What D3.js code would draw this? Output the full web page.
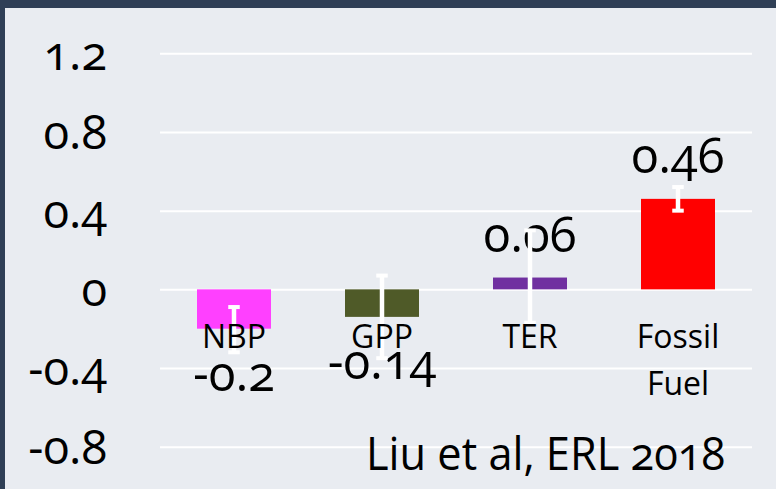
<!DOCTYPE html>
<html>
<head>
<meta charset="utf-8">
<script src="https://cdn.jsdelivr.net/npm/d3@7/dist/d3.min.js"></script>
<style>
  html, body { margin: 0; padding: 0; background: #e9ecf1; }
  svg { display: block; }
  text { font-family: "Open Sans", "Noto Sans", sans-serif; font-feature-settings: "onum" 1; fill: #000; }
</style>
</head>
<body>
<svg id="chart" width="776" height="489"></svg>
<script>
const categories = ["NBP", "GPP", "TER", "Fossil Fuel"];
const categoryLines = [["NBP"], ["GPP"], ["TER"], ["Fossil", "Fuel"]];
const values = [-0.2, -0.14, 0.06, 0.46];
const errLow = [-0.32, -0.35, -0.17, 0.40];
const errHigh = [-0.09, 0.07, 0.30, 0.52];
const valueLabels = ["-0.2", "-0.14", "0.06", "0.46"];
const barColors = ["#ff40ff", "#4f5a28", "#7030a0", "#ff0000"];
const yTicks = [-0.8, -0.4, 0, 0.4, 0.8, 1.2];
const yTickLabels = ["-0.8", "-0.4", "0", "0.4", "0.8", "1.2"];
const citation = "Liu et al, ERL 2018";

const svg = d3.select("#chart");
const W = 776, H = 489;

svg.append("rect").attr("width", W).attr("height", H).attr("fill", "#e9ecf1");
svg.append("rect").attr("x", 0).attr("y", 0).attr("width", W).attr("height", 8).attr("fill", "#2f3f56");
svg.append("rect").attr("x", 0).attr("y", 0).attr("width", 5).attr("height", H).attr("fill", "#2f3f56");

const x = d3.scaleBand().domain(categories).range([160, 752]).paddingInner(0.5).paddingOuter(0.25);
const y = d3.scaleLinear().domain([-0.8, 1.2]).range([446.7, 53.3]);

// gridlines
const yAxis = d3.axisLeft(y).tickValues(yTicks).tickSize(-(752 - 160)).tickFormat("");
const gAxis = svg.append("g").attr("transform", "translate(160,0)").call(yAxis);
gAxis.select(".domain").remove();
gAxis.selectAll(".tick line").attr("stroke", "#ffffff").attr("stroke-width", 2);

// tick labels
svg.append("g").selectAll("text").data(yTicks).join("text")
  .attr("x", 107).attr("y", d => y(d) + 17)
  .attr("text-anchor", "end")
  .attr("font-size", 47)
  .text((d, i) => yTickLabels[i]);

const data = categories.map((c, i) => ({ c, i, v: values[i], lo: errLow[i], hi: errHigh[i] }));

// bars
svg.append("g").selectAll("rect").data(data).join("rect")
  .attr("x", d => x(d.c))
  .attr("width", x.bandwidth())
  .attr("y", d => y(Math.max(0, d.v)))
  .attr("height", d => Math.abs(y(d.v) - y(0)))
  .attr("fill", d => barColors[d.i]);

// value labels
svg.append("g").selectAll("text").data(data).join("text")
  .attr("x", d => x(d.c) + x.bandwidth() / 2)
  .attr("y", d => d.v >= 0 ? y(d.v) - 26 : y(d.v) + 62)
  .attr("text-anchor", "middle")
  .attr("font-size", 49)
  .text(d => valueLabels[d.i]);

// error bars
const eb = svg.append("g").selectAll("g").data(data).join("g");
const capW = 11.5;
eb.append("line")
  .attr("x1", d => x(d.c) + x.bandwidth() / 2).attr("x2", d => x(d.c) + x.bandwidth() / 2)
  .attr("y1", d => y(d.lo)).attr("y2", d => y(d.hi))
  .attr("stroke", "#fff").attr("stroke-width", 4.5);
eb.append("line")
  .attr("x1", d => x(d.c) + x.bandwidth() / 2 - capW / 2).attr("x2", d => x(d.c) + x.bandwidth() / 2 + capW / 2)
  .attr("y1", d => y(d.lo)).attr("y2", d => y(d.lo))
  .attr("stroke", "#fff").attr("stroke-width", 4);
eb.append("line")
  .attr("x1", d => x(d.c) + x.bandwidth() / 2 - capW / 2).attr("x2", d => x(d.c) + x.bandwidth() / 2 + capW / 2)
  .attr("y1", d => y(d.hi)).attr("y2", d => y(d.hi))
  .attr("stroke", "#fff").attr("stroke-width", 4);

// category labels
const cl = svg.append("g").selectAll("text").data(data).join("text")
  .attr("text-anchor", "middle")
  .attr("font-size", 32);
cl.selectAll("tspan").data(d => categoryLines[d.i].map((t, k) => ({ t, k, d }))).join("tspan")
  .attr("x", e => x(e.d.c) + x.bandwidth() / 2)
  .attr("y", e => 348 + e.k * 47)
  .text(e => e.t);

// citation
svg.append("text")
  .attr("x", 725).attr("y", 470)
  .attr("text-anchor", "end")
  .attr("font-size", 45)
  .attr("textLength", 359)
  .attr("lengthAdjust", "spacingAndGlyphs")
  .text(citation);
</script>
</body>
</html>
